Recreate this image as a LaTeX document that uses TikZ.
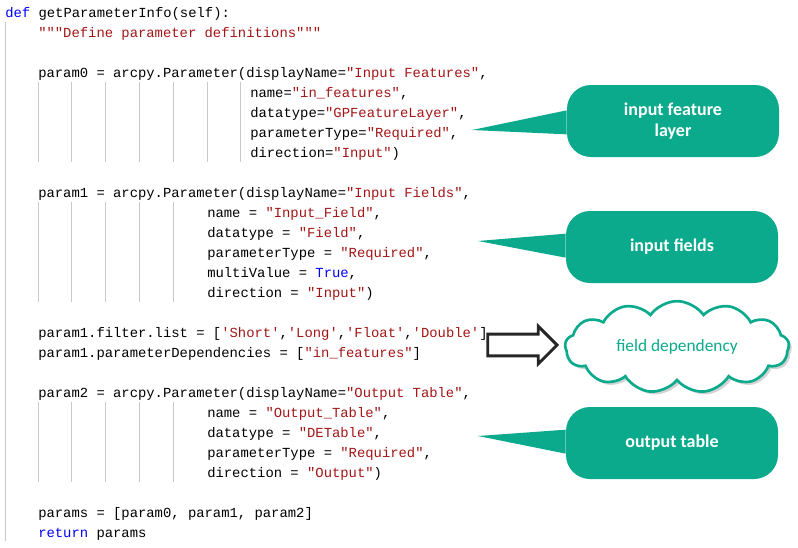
\documentclass[tikz,border=0pt]{standalone}
\usepackage{fontspec}
\setmonofont{Liberation Mono}
\newfontfamily\calloutfont{Carlito}
\usetikzlibrary{shapes.symbols,shapes.arrows,shadows}
\definecolor{kwblue}{RGB}{0,0,255}
\definecolor{strred}{RGB}{163,21,21}
\definecolor{callgreen}{RGB}{11,170,140}
\definecolor{guidegray}{RGB}{200,200,200}
\newcommand{\kw}[1]{\textcolor{kwblue}{#1}}
\newcommand{\str}[1]{\textcolor{strred}{#1}}

\begin{document}
\begin{tikzpicture}[x=0.75pt, y=-0.75pt,
    code/.style={anchor=base west, inner sep=0pt, font=\ttfamily\fontsize{10.4}{12}\selectfont},
    guide/.style={guidegray, line width=0.6pt},
    callout/.style={fill=callgreen, rounded corners=18pt, minimum width=159pt, minimum height=54pt, align=center, text=white, font=\calloutfont\bfseries\fontsize{13.5}{16}\selectfont},
    bubble/.style={cloud, cloud puffs=13, cloud puff arc=110, aspect=2.6, draw=callgreen, line width=2pt, fill=white, drop shadow={opacity=0.35}, minimum width=168pt, minimum height=66pt, text=callgreen, font=\calloutfont\fontsize{13}{16}\selectfont}]

\useasboundingbox (0,0) rectangle (798,547);

% indent guides
\draw[guide] (5,22) -- (5,541);
\foreach \k in {0,...,6} \draw[guide] (38+33.8*\k,82) -- (38+33.8*\k,162);
\foreach \k in {0,...,4} \draw[guide] (38+33.8*\k,202) -- (38+33.8*\k,302);
\foreach \k in {0,...,4} \draw[guide] (38+33.8*\k,402) -- (38+33.8*\k,482);

% code
\node[code] (l1) at (5,17) {\kw{def} getParameterInfo(self):};
\node[code] (l2) at (38,37) {\str{"""Define parameter definitions"""}};
\node[code] (l4) at (38,77) {param0 = arcpy.Parameter(displayName=\str{"Input Features"},};
\node[code] (l5) at (250,97) {name=\str{"in\_features"},};
\node[code] (l6) at (250,117) {datatype=\str{"GPFeatureLayer"},};
\node[code] (l7) at (250,137) {parameterType=\str{"Required"},};
\node[code] (l8) at (250,157) {direction=\str{"Input"})};
\node[code] (l10) at (38,197) {param1 = arcpy.Parameter(displayName=\str{"Input Fields"},};
\node[code] (l11) at (207,217) {name = \str{"Input\_Field"},};
\node[code] (l12) at (207,237) {datatype = \str{"Field"},};
\node[code] (l13) at (207,257) {parameterType = \str{"Required"},};
\node[code] (l14) at (207,277) {multiValue = \kw{True},};
\node[code] (l15) at (207,297) {direction = \str{"Input"})};
\node[code] (l17) at (38,337) {param1.filter.list = [\str{'Short'},\str{'Long'},\str{'Float'},\str{'Double'}]};
\node[code] (l18) at (38,357) {param1.parameterDependencies = [\str{"in\_features"}]};
\node[code] (l20) at (38,397) {param2 = arcpy.Parameter(displayName=\str{"Output Table"},};
\node[code] (l21) at (207,417) {name = \str{"Output\_Table"},};
\node[code] (l22) at (207,437) {datatype = \str{"DETable"},};
\node[code] (l23) at (207,457) {parameterType = \str{"Required"},};
\node[code] (l24) at (207,477) {direction = \str{"Output"})};
\node[code] (l26) at (38,517) {params = [param0, param1, param2]};
\node[code] (l27) at (38,537) {\kw{return} params};

% callouts
\node[callout] (feat) at (673,121) {input feature\\layer};
\coordinate (featTip) at (472,130);
\fill[callgreen] (featTip) -- ([yshift=8pt]feat.west) -- ([yshift=-10pt]feat.west) -- cycle;

\node[callout] (fields) at (672,247) {input fields};
\coordinate (fieldsTip) at (478,241);
\fill[callgreen] (fieldsTip) -- ([yshift=10pt]fields.west) -- ([yshift=-8pt]fields.west) -- cycle;

\node[callout] (outtab) at (672,443) {output table};
\coordinate (outtabTip) at (478,436);
\fill[callgreen] (outtabTip) -- ([yshift=10pt]outtab.west) -- ([yshift=-8pt]outtab.west) -- cycle;

% dependency
\node[bubble] (dep) at (677,347) {field dependency};
\node[single arrow, draw=black!85, line width=2.2pt, fill=white, minimum height=52pt, minimum width=27pt, inner sep=7pt, single arrow head extend=6pt] (arrow) at (517,345) {};

\end{tikzpicture}
\end{document}
